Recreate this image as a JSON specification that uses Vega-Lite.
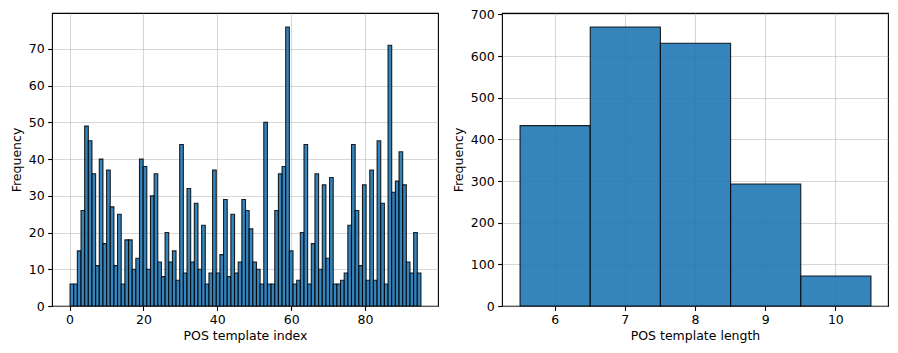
{
  "$schema": "https://vega.github.io/schema/vega-lite/v6.json",
  "padding": {"left": 9, "top": 7, "right": 3, "bottom": 5},
  "bounds": "flush",
  "spacing": 64,
  "datasets": {
    "index_counts": [
      {"index": 0, "count": 6}, {"index": 1, "count": 6}, {"index": 2, "count": 15}, {"index": 3, "count": 26},
      {"index": 4, "count": 49}, {"index": 5, "count": 45}, {"index": 6, "count": 36}, {"index": 7, "count": 11},
      {"index": 8, "count": 40}, {"index": 9, "count": 17}, {"index": 10, "count": 37}, {"index": 11, "count": 27},
      {"index": 12, "count": 11}, {"index": 13, "count": 25}, {"index": 14, "count": 6}, {"index": 15, "count": 18},
      {"index": 16, "count": 18}, {"index": 17, "count": 10}, {"index": 18, "count": 13}, {"index": 19, "count": 40},
      {"index": 20, "count": 38}, {"index": 21, "count": 10}, {"index": 22, "count": 30}, {"index": 23, "count": 36},
      {"index": 24, "count": 12}, {"index": 25, "count": 8}, {"index": 26, "count": 20}, {"index": 27, "count": 12},
      {"index": 28, "count": 15}, {"index": 29, "count": 7}, {"index": 30, "count": 44}, {"index": 31, "count": 9},
      {"index": 32, "count": 32}, {"index": 33, "count": 12}, {"index": 34, "count": 28}, {"index": 35, "count": 10},
      {"index": 36, "count": 22}, {"index": 37, "count": 6}, {"index": 38, "count": 9}, {"index": 39, "count": 37},
      {"index": 40, "count": 9}, {"index": 41, "count": 14}, {"index": 42, "count": 29}, {"index": 43, "count": 8},
      {"index": 44, "count": 25}, {"index": 45, "count": 9}, {"index": 46, "count": 12}, {"index": 47, "count": 29},
      {"index": 48, "count": 26}, {"index": 49, "count": 21}, {"index": 50, "count": 12}, {"index": 51, "count": 10},
      {"index": 52, "count": 6}, {"index": 53, "count": 50}, {"index": 54, "count": 6}, {"index": 55, "count": 6},
      {"index": 56, "count": 26}, {"index": 57, "count": 36}, {"index": 58, "count": 38}, {"index": 59, "count": 76},
      {"index": 60, "count": 15}, {"index": 61, "count": 6}, {"index": 62, "count": 7}, {"index": 63, "count": 20},
      {"index": 64, "count": 44}, {"index": 65, "count": 6}, {"index": 66, "count": 17}, {"index": 67, "count": 36},
      {"index": 68, "count": 10}, {"index": 69, "count": 33}, {"index": 70, "count": 13}, {"index": 71, "count": 35},
      {"index": 72, "count": 6}, {"index": 73, "count": 6}, {"index": 74, "count": 7}, {"index": 75, "count": 9},
      {"index": 76, "count": 22}, {"index": 77, "count": 44}, {"index": 78, "count": 26}, {"index": 79, "count": 11},
      {"index": 80, "count": 33}, {"index": 81, "count": 7}, {"index": 82, "count": 37}, {"index": 83, "count": 7},
      {"index": 84, "count": 45}, {"index": 85, "count": 28}, {"index": 86, "count": 6}, {"index": 87, "count": 71},
      {"index": 88, "count": 31}, {"index": 89, "count": 34}, {"index": 90, "count": 42}, {"index": 91, "count": 33},
      {"index": 92, "count": 12}, {"index": 93, "count": 9}, {"index": 94, "count": 20}, {"index": 95, "count": 9}
    ],
    "length_counts": [
      {"length": 6, "count": 433},
      {"length": 7, "count": 670},
      {"length": 8, "count": 631},
      {"length": 9, "count": 293},
      {"length": 10, "count": 72}
    ]
  },
  "hconcat": [
    {
      "width": 386,
      "height": 293,
      "data": {"name": "index_counts"},
      "mark": {"type": "bar", "fill": "#1f77b4", "fillOpacity": 0.9, "stroke": "#000000", "strokeOpacity": 0.85, "strokeWidth": 1.1, "binSpacing": 0},
      "encoding": {
        "x": {
          "field": "index",
          "type": "quantitative",
          "bin": {"extent": [0, 95], "step": 0.9895833333333334, "nice": false},
          "title": "POS template index",
          "scale": {"domain": [-4.75, 99.75], "nice": false, "zero": false},
          "axis": {"values": [0, 20, 40, 60, 80], "format": "d", "grid": true, "titlePadding": 3}
        },
        "y": {
          "field": "count",
          "type": "quantitative",
          "aggregate": "sum",
          "title": "Frequency",
          "scale": {"domain": [0, 79.8], "nice": false},
          "axis": {"values": [0, 10, 20, 30, 40, 50, 60, 70], "grid": true, "titlePadding": 5}
        }
      }
    },
    {
      "width": 386,
      "height": 293,
      "data": {"name": "length_counts"},
      "mark": {"type": "bar", "fill": "#1f77b4", "fillOpacity": 0.9, "stroke": "#000000", "strokeOpacity": 0.85, "strokeWidth": 1.1, "binSpacing": 0},
      "encoding": {
        "x": {
          "field": "length",
          "type": "quantitative",
          "bin": {"extent": [5.5, 10.5], "step": 1, "nice": false},
          "title": "POS template length",
          "scale": {"domain": [5.25, 10.75], "nice": false, "zero": false},
          "axis": {"values": [6, 7, 8, 9, 10], "format": "d", "grid": true, "titlePadding": 3}
        },
        "y": {
          "field": "count",
          "type": "quantitative",
          "aggregate": "sum",
          "title": "Frequency",
          "scale": {"domain": [0, 703.5], "nice": false},
          "axis": {"values": [0, 100, 200, 300, 400, 500, 600, 700], "grid": true, "titlePadding": 5}
        }
      }
    }
  ],
  "config": {
    "font": "DejaVu Sans",
    "background": "#ffffff",
    "view": {"stroke": "#000000", "strokeWidth": 1.1},
    "axis": {
      "labelFont": "DejaVu Sans",
      "titleFont": "DejaVu Sans",
      "labelFontSize": 12.5,
      "titleFontSize": 12.5,
      "titleFontWeight": "normal",
      "labelColor": "#000000",
      "titleColor": "#000000",
      "tickColor": "#000000",
      "tickSize": 4.4,
      "tickWidth": 1.1,
      "labelPadding": 3.5,
      "domain": false,
      "gridColor": "#b0b0b0",
      "gridOpacity": 0.5,
      "gridWidth": 1.1,
      "labelFlush": false,
      "labelOverlap": false,
      "zindex": 1
    }
  }
}
